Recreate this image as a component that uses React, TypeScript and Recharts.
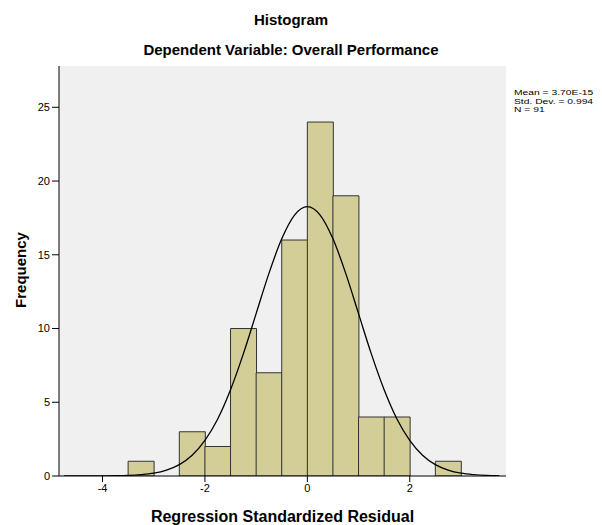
import React from 'react';
import { ComposedChart, Bar, Line, XAxis, YAxis, CartesianGrid, ReferenceArea } from 'recharts';

// histogram bins (width 0.5), centres and counts
const binCenters = [-3.25, -2.75, -2.25, -1.75, -1.25, -0.75, -0.25, 0.25, 0.75, 1.25, 1.75, 2.25, 2.75];
const frequencies = [1, 0, 3, 2, 10, 7, 16, 24, 19, 4, 4, 0, 1];

// normal curve
const curveX = [
  -4.75, -4.5, -4.25, -4, -3.75, -3.5, -3.25, -3, -2.75, -2.5, -2.25, -2, -1.75, -1.5, -1.25, -1, -0.75, -0.5, -0.25,
  0, 0.25, 0.5, 0.75, 1, 1.25, 1.5, 1.75, 2, 2.25, 2.5, 2.75, 3, 3.25, 3.5, 3.75,
];
const curveY = [
  0, 0, 0, 0.01, 0.02, 0.04, 0.09, 0.19, 0.4, 0.77, 1.41, 2.42, 3.87, 5.85, 8.28, 11.01, 13.74, 16.08, 17.69,
  18.26, 17.69, 16.08, 13.74, 11.01, 8.28, 5.85, 3.87, 2.42, 1.41, 0.77, 0.4, 0.19, 0.09, 0.04, 0.02,
];

const xTicks = [-4, -2, 0, 2];
const yTicks = [0, 5, 10, 15, 20, 25];
const statLines = ['Mean = 3.70E-15', 'Std. Dev. = 0.994', 'N = 91'];

const barData = binCenters.map((x, i) => ({ x, freq: frequencies[i] }));
const curveData = curveX.map((x, i) => ({ cx: x, curve: curveY[i] }));

const font = '"Liberation Sans", Arial, sans-serif';
const tickStyle = { fontSize: 11, fill: '#000', fontFamily: font };
const xDomain = [-4.85, 3.88];

export default function App() {
  return (
    <div style={{ position: 'absolute', left: 0, top: 0, width: 602, height: 525, background: '#fff', fontFamily: font }}>
      <div style={{ position: 'absolute', left: 0, width: 582, top: 11, textAlign: 'center', fontSize: 15, fontWeight: 'bold' }}>
        Histogram
      </div>
      <div style={{ position: 'absolute', left: 0, width: 582, top: 41, textAlign: 'center', fontSize: 15, fontWeight: 'bold' }}>
        Dependent Variable: Overall Performance
      </div>
      <div
        style={{
          position: 'absolute', left: 20, top: 270, fontSize: 15, fontWeight: 'bold',
          transform: 'translate(-50%, -50%) rotate(-90deg)', whiteSpace: 'nowrap',
        }}
      >
        Frequency
      </div>
      <div style={{ position: 'absolute', left: 0, width: 565, top: 508, textAlign: 'center', fontSize: 16, fontWeight: 'bold' }}>
        Regression Standardized Residual
      </div>
      <div
        style={{
          position: 'absolute', left: 514, top: 89, fontSize: 10.3, lineHeight: '11.5px',
          transform: 'scaleY(0.72)', transformOrigin: 'top left', whiteSpace: 'nowrap',
        }}
      >
        {statLines.map((s) => (
          <div key={s}>{s}</div>
        ))}
      </div>
      <ComposedChart
        width={602}
        height={525}
        data={barData}
        margin={{ top: 66, right: 96, bottom: 0, left: 0 }}
        barCategoryGap={0}
        barGap={0}
      >
        <CartesianGrid fill="#f0f0f0" horizontal={false} vertical={false} />
        <ReferenceArea fill="none" stroke="#808080" strokeWidth={1.5} />
        <XAxis
          dataKey="x"
          type="number"
          domain={xDomain}
          ticks={xTicks}
          allowDataOverflow
          tick={tickStyle}
          tickSize={6}
          axisLine={{ stroke: '#000' }}
          tickLine={{ stroke: '#000' }}
          height={49}
        />
        <XAxis xAxisId="curve" dataKey="cx" type="number" domain={xDomain} allowDataOverflow hide />
        <YAxis
          type="number"
          domain={[0, 27.8]}
          ticks={yTicks}
          allowDataOverflow
          tick={tickStyle}
          tickSize={7}
          axisLine={{ stroke: '#000' }}
          tickLine={{ stroke: '#000' }}
          width={59}
        />
        <Bar dataKey="freq" fill="#d3ce97" stroke="#333" strokeWidth={1} isAnimationActive={false} />
        <Line
          xAxisId="curve"
          data={curveData}
          dataKey="curve"
          type="monotone"
          stroke="#000"
          strokeWidth={1.3}
          dot={false}
          activeDot={false}
          isAnimationActive={false}
        />
      </ComposedChart>
    </div>
  );
}
